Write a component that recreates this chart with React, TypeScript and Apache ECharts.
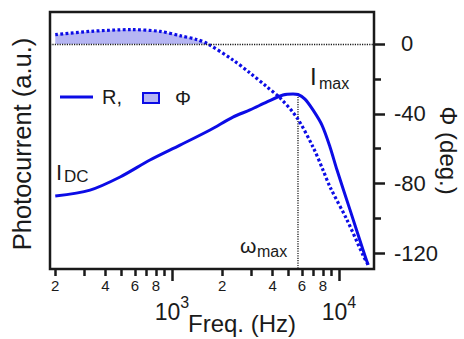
import React, { useEffect, useRef } from 'react';
import * as echarts from 'echarts';

// ---- data ----
const freqR = [200, 323, 489, 738, 1117, 1690, 2317, 2930, 3705, 4624, 5306, 5680, 6252, 6984, 7905, 8832, 9730, 11640, 13930, 14930];
const photocurrent = [0.284, 0.307, 0.358, 0.424, 0.482, 0.541, 0.591, 0.619, 0.65, 0.677, 0.681, 0.679, 0.661, 0.619, 0.56, 0.475, 0.385, 0.23, 0.074, 0.016];
const freqPhi = [200, 323, 568, 848, 1132, 1400, 1640, 2317, 2930, 3705, 4436, 5613, 6984, 8020, 8832, 11170, 13930, 14930];
const phase = [5.3, 7.2, 8.2, 7.2, 4.6, 2.6, 0, -9.2, -16.6, -24.6, -30.9, -42.4, -59.0, -72.2, -81.9, -100.8, -121.0, -126.5];
const omegaMax = 5680;
const xLabelFreqs = [200, 400, 600, 800, 2000, 4000, 6000, 8000];
const xMinorTickFreqs = [200, 300, 400, 500, 600, 700, 800, 900, 2000, 3000, 4000, 5000, 6000, 7000, 8000, 9000];
const xDecadeFreqs = [1000, 10000];
const phiMajorTicks = [0, -40, -80, -120];
const phiMinorTicks = [-20, -60, -100];
const freqMin = 186;
const freqMax = 16200;
const phiMin = -128.9;
const phiMax = 18.3;
const rMin = 0;
const rMax = 1;

const BLUE = '#0c0ce6';
const SHADE = '#b6b6f3';
const INK = '#1a1a1a';
const FONT = '"Liberation Sans", Arial, Helvetica, sans-serif';

const GRID = { left: 50, top: 12, right: 90, bottom: 70 };
const W = 464;
const H = 339;

const lg = Math.log10;

export default function App() {
  const ref = useRef<HTMLDivElement>(null);

  useEffect(() => {
    if (!ref.current) return;
    document.body.style.margin = '0';
    document.body.style.overflow = 'hidden';
    const chart = echarts.init(ref.current, null, { renderer: 'svg' });

    const rData = freqR.map((f, i) => [lg(f), photocurrent[i]]);
    const phiData = freqPhi.map((f, i) => [lg(f), phase[i]]);
    const shadeData = freqPhi.map((f, i) => [lg(f), phase[i]]).filter((d) => d[1] >= 0);
    const rPeak = photocurrent[freqR.indexOf(omegaMax)];

    const mantissa = (v: number) => String(Math.round(Math.pow(10, v) / Math.pow(10, Math.floor(v + 1e-9))));

    const txt = (text: string, x: number, y: number, size: number) => ({
      type: 'text',
      x,
      y,
      style: { text, fontSize: size, fontFamily: FONT, fill: INK, verticalAlign: 'middle', align: 'left' },
    });

    const plotH = H - GRID.top - GRID.bottom;

    chart.setOption({
      animation: false,
      backgroundColor: '#ffffff',
      textStyle: { fontFamily: FONT },
      grid: {
        ...GRID,
        show: true,
        borderColor: INK,
        borderWidth: 2.5,
        backgroundColor: 'transparent',
        containLabel: false,
        outerBoundsMode: 'none',
      },
      xAxis: [
        {
          type: 'value',
          position: 'bottom',
          min: lg(freqMin),
          max: lg(freqMax),
          axisLine: { show: false },
          splitLine: { show: false },
          axisTick: {
            show: true,
            customValues: xMinorTickFreqs.map(lg),
            length: 7,
            lineStyle: { width: 2.5, color: INK },
          },
          axisLabel: {
            show: true,
            customValues: xLabelFreqs.map(lg),
            formatter: (v: number) => mantissa(v),
            fontSize: 15,
            color: INK,
            fontFamily: FONT,
            margin: 9,
          },
          name: 'Freq. (Hz)',
          nameLocation: 'middle',
          nameMoveOverlap: false,
          nameGap: 42,
          nameTextStyle: { fontSize: 24, color: INK, fontFamily: FONT, padding: [0, 0, 0, 60] },
        },
        {
          // decade ticks: a top axis moved down onto the bottom edge
          type: 'value',
          position: 'top',
          offset: -plotH,
          min: lg(freqMin),
          max: lg(freqMax),
          axisLine: { show: false },
          splitLine: { show: false },
          axisTick: {
            show: true,
            inside: true,
            customValues: xDecadeFreqs.map(lg),
            length: 12,
            lineStyle: { width: 2.5, color: INK },
          },
          axisLabel: {
            show: true,
            inside: true,
            customValues: xDecadeFreqs.map(lg),
            formatter: (v: number) => `{b|10}{s|${Math.round(v)}}`,
            margin: 25,
            rich: {
              b: { fontSize: 23, color: INK, fontFamily: FONT },
              s: { fontSize: 16, color: INK, fontFamily: FONT, padding: [0, 0, 20, 0] },
            },
          },
        },
      ],
      yAxis: [
        {
          type: 'value',
          position: 'left',
          min: rMin,
          max: rMax,
          axisLine: { show: false },
          axisTick: { show: false },
          axisLabel: { show: false },
          splitLine: { show: false },
          name: 'Photocurrent (a.u.)',
          nameLocation: 'middle',
          nameRotate: 90,
          nameMoveOverlap: false,
          nameGap: 15,
          nameTextStyle: { fontSize: 25.5, color: INK, fontFamily: FONT, padding: [0, 7, 0, 0] },
        },
        {
          type: 'value',
          position: 'right',
          min: phiMin,
          max: phiMax,
          axisLine: { show: false },
          splitLine: { show: false },
          axisTick: {
            show: true,
            customValues: phiMajorTicks,
            length: 11,
            lineStyle: { width: 2.5, color: INK },
          },
          axisLabel: {
            show: true,
            customValues: phiMajorTicks,
            formatter: (v: number) => (v === 0 ? '{z|0}' : String(v)),
            fontSize: 22,
            color: INK,
            fontFamily: FONT,
            margin: 20,
            align: 'left',
            rich: { z: { fontSize: 22, color: INK, fontFamily: FONT, padding: [0, 0, 0, 7] } },
          },
          name: 'Φ (deg.)',
          nameLocation: 'middle',
          nameRotate: -90,
          nameMoveOverlap: false,
          nameGap: 62,
          nameTextStyle: { fontSize: 24, color: INK, fontFamily: FONT, padding: [0, 0, 0, 20] },
        },
        {
          type: 'value',
          position: 'right',
          min: phiMin,
          max: phiMax,
          axisLine: { show: false },
          splitLine: { show: false },
          axisLabel: { show: false },
          axisTick: {
            show: true,
            customValues: phiMinorTicks,
            length: 7,
            lineStyle: { width: 2.5, color: INK },
          },
        },
      ],
      series: [
        {
          name: 'shade',
          type: 'line',
          xAxisIndex: 0,
          yAxisIndex: 1,
          data: shadeData,
          symbol: 'none',
          lineStyle: { width: 0 },
          areaStyle: { color: SHADE, opacity: 1 },
          smooth: 0.3,
          z: 1,
          silent: true,
        },
        {
          name: 'Φ',
          type: 'line',
          xAxisIndex: 0,
          yAxisIndex: 1,
          data: phiData,
          symbol: 'none',
          smooth: 0.3,
          lineStyle: { color: BLUE, width: 3.2, type: [2.8, 2.4] },
          z: 3,
          markLine: {
            silent: true,
            symbol: 'none',
            label: { show: false },
            lineStyle: { type: [1.2, 1.2], color: INK, width: 1.3 },
            data: [{ yAxis: 0 }],
          },
        },
        {
          name: 'R',
          type: 'line',
          xAxisIndex: 0,
          yAxisIndex: 0,
          data: rData,
          symbol: 'none',
          smooth: 0.3,
          lineStyle: { color: BLUE, width: 3 },
          z: 4,
        },
        {
          name: 'ωmax',
          type: 'line',
          xAxisIndex: 0,
          yAxisIndex: 0,
          data: [
            [lg(omegaMax), rPeak],
            [lg(omegaMax), rMin],
          ],
          symbol: 'none',
          lineStyle: { color: INK, width: 1.3, type: [1.2, 1.2] },
          z: 2,
        },
      ],
      graphic: [
        { type: 'line', shape: { x1: 60, y1: 97, x2: 93, y2: 97 }, style: { stroke: BLUE, lineWidth: 3 } },
        txt('R,', 102, 97, 20),
        { type: 'rect', shape: { x: 143, y: 93, width: 16, height: 10 }, style: { fill: SHADE, stroke: BLUE, lineWidth: 2 } },
        txt('Φ', 175, 98, 20),
        txt('I', 310, 76, 24),
        txt('max', 319, 83, 16),
        txt('I', 56, 172, 22),
        txt('DC', 64, 176, 17),
        txt('ω', 240, 245, 21),
        txt('max', 257, 251, 16),
      ],
    });

    return () => chart.dispose();
  }, []);

  return <div ref={ref} style={{ width: W, height: H }} />;
}
